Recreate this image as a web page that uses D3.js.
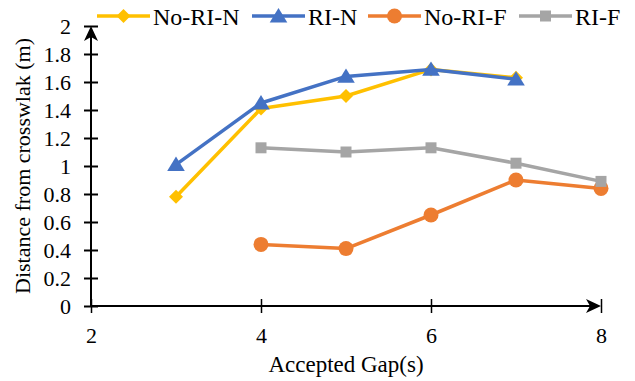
<!DOCTYPE html>
<html lang="en">
<head>
  <meta charset="UTF-8">
  <title>Distance from crosswalk</title>
  <script src="https://cdn.jsdelivr.net/npm/d3@7/dist/d3.min.js"></script>
  <style>
    body { margin: 0; background: #fff; }
    svg text { font-family: "Liberation Serif", "Times New Roman", serif; fill: #000; }
  </style>
</head>
<body>
  <svg width="635" height="381"></svg>
<script>
  const gaps = [3, 4, 5, 6, 7, 8];
  const noRiN = [0.78, 1.41, 1.50, 1.69, 1.63, null];
  const riN   = [1.01, 1.45, 1.64, 1.69, 1.62, null];
  const noRiF = [null, 0.44, 0.41, 0.65, 0.90, 0.84];
  const riF   = [null, 1.13, 1.10, 1.13, 1.02, 0.89];
  const xTicks = [2, 4, 6, 8];
  const yTicks = [0, 0.2, 0.4, 0.6, 0.8, 1, 1.2, 1.4, 1.6, 1.8, 2];

  // marker shapes (excel-like)
  const diamond = r => `M0,${-r}L${r},0L0,${r}L${-r},0Z`;
  const triangle = r => `M0,${-r}L${r * 1.1},${r * 0.8}L${-r * 1.1},${r * 0.8}Z`;
  const circle = r => d3.symbol(d3.symbolCircle, Math.PI * r * r)();
  const square = r => `M${-r},${-r}H${r}V${r}H${-r}Z`;

  const series = [
    { name: 'No-RI-N', values: noRiN, color: '#FFC000', marker: diamond(7) },
    { name: 'RI-N', values: riN, color: '#4472C4', marker: triangle(8) },
    { name: 'No-RI-F', values: noRiF, color: '#ED7D31', marker: circle(7.5) },
    { name: 'RI-F', values: riF, color: '#A5A5A5', marker: square(5.5) }
  ];

  const svg = d3.select('svg');
  const x = d3.scaleLinear().domain([2, 8]).range([91, 601]);
  const y = d3.scaleLinear().domain([0, 2]).range([306, 26]);

  // axes
  const yAxis = svg.append('g').attr('transform', `translate(${x(2)},0)`)
    .call(d3.axisLeft(y).tickValues(yTicks).tickFormat(d3.format('')).tickSize(7).tickPadding(13));
  yAxis.attr('font-family', null);
  yAxis.select('.domain').remove();
  yAxis.selectAll('.tick line').attr('x2', 7).attr('x1', -7).attr('stroke', '#000').attr('stroke-width', 2);
  yAxis.selectAll('.tick text').attr('font-size', 22);

  const xAxis = svg.append('g').attr('transform', `translate(0,${y(0)})`)
    .call(d3.axisBottom(x).tickValues(xTicks).tickFormat(d3.format('d')).tickSize(7).tickPadding(14));
  xAxis.attr('font-family', null);
  xAxis.select('.domain').remove();
  xAxis.selectAll('.tick line').attr('y1', -7).attr('y2', 7).attr('stroke', '#000').attr('stroke-width', 1.5);
  xAxis.selectAll('.tick text').attr('font-size', 22);

  svg.append('line').attr('x1', x(2)).attr('x2', x(8) - 4).attr('y1', y(0)).attr('y2', y(0))
    .attr('stroke', '#000').attr('stroke-width', 2);
  svg.append('line').attr('x1', x(2)).attr('x2', x(2)).attr('y1', y(0)).attr('y2', y(2) + 4)
    .attr('stroke', '#000').attr('stroke-width', 2);
  // arrow heads
  svg.append('path')
    .attr('d', `M${x(8)},${y(0)} L${x(8) - 15},${y(0) - 7} L${x(8) - 11},${y(0)} L${x(8) - 15},${y(0) + 7} Z`);
  svg.append('path')
    .attr('d', `M${x(2)},${y(2)} L${x(2) - 7},${y(2) + 15} L${x(2)},${y(2) + 11} L${x(2) + 7},${y(2) + 15} Z`);

  // axis titles
  svg.append('text').attr('x', 346).attr('y', 372).attr('text-anchor', 'middle')
    .attr('font-size', 23).text('Accepted Gap(s)');
  svg.append('text').attr('transform', 'translate(30,166) rotate(-90)').attr('text-anchor', 'middle')
    .attr('font-size', 22).text('Distance from crosswlak (m)');

  // lines + markers
  const line = d3.line().x(d => x(d[0])).y(d => y(d[1]));
  series.forEach(s => {
    const pts = gaps.map((g, i) => [g, s.values[i]]).filter(d => d[1] != null);
    svg.append('path').datum(pts).attr('d', line).attr('fill', 'none')
      .attr('stroke', s.color).attr('stroke-width', 3.5).attr('stroke-linejoin', 'round');
    svg.selectAll(null).data(pts).join('path')
      .attr('transform', d => `translate(${x(d[0])},${y(d[1])})`)
      .attr('d', s.marker).attr('fill', s.color);
  });

  // legend
  const legendX = [97, 252, 368, 519];
  const legend = svg.append('g');
  series.forEach((s, i) => {
    const g = legend.append('g').attr('transform', `translate(${legendX[i]},16)`);
    g.append('line').attr('x1', 0).attr('x2', 53).attr('stroke', s.color).attr('stroke-width', 3.5);
    g.append('path').attr('transform', 'translate(26.5,0)').attr('d', s.marker).attr('fill', s.color);
    g.append('text').attr('x', 56).attr('y', 9).attr('font-size', 24).text(s.name);
  });
</script>
</body>
</html>
